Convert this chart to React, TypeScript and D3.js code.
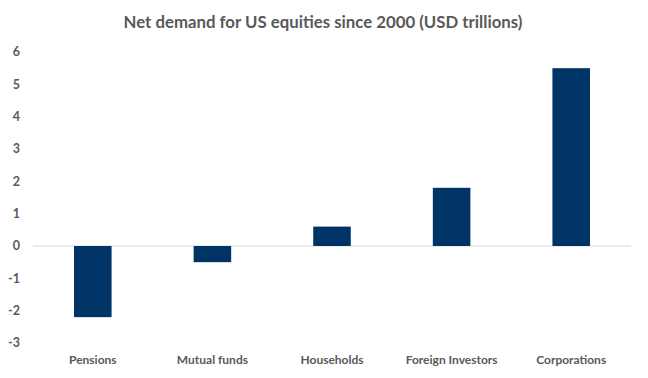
import React from "react";
import * as d3 from "d3";

const categories = ["Pensions", "Mutual funds", "Households", "Foreign Investors", "Corporations"];
const values = [-2.2, -0.5, 0.6, 1.8, 5.5];
const yTicks = [-3, -2, -1, 0, 1, 2, 3, 4, 5, 6];
const title = "Net demand for US equities since 2000 (USD trillions)";

export default function App() {
  const W = 648, H = 378;
  const x = d3.scaleBand<string>().domain(categories).range([33, 631]).paddingInner(0.686).paddingOuter(0.343);
  const y = d3.scaleLinear().domain([-3, 6]).range([343, 52]);
  const font = "Lato, Carlito, 'Open Sans', sans-serif";
  return (
    <svg width={W} height={H} style={{ position: "absolute", left: 0, top: 0, background: "#fff" }}>
      <text x={323} y={28} textAnchor="middle" fontFamily={font} fontWeight={700} fontSize={16.8} fill="#595959">{title}</text>
      {yTicks.map(t => (
        <text key={t} x={20} y={y(t)} dy="0.35em" textAnchor="end" fontFamily={font} fontWeight={700} fontSize={12.5} fill="#595959">{t}</text>
      ))}
      <line x1={33} x2={631} y1={y(0)} y2={y(0)} stroke="#d9d9d9" strokeWidth={1} />
      {categories.map((c, i) => {
        const v = values[i];
        return (
          <rect key={c} x={x(c)} width={x.bandwidth()} y={Math.min(y(v), y(0))} height={Math.abs(y(v) - y(0))} fill="#003366" />
        );
      })}
      {categories.map(c => (
        <text key={c} x={(x(c) as number) + x.bandwidth() / 2} y={360} dy="0.35em" textAnchor="middle" fontFamily={font} fontWeight={700} fontSize={12} fill="#595959">{c}</text>
      ))}
    </svg>
  );
}
